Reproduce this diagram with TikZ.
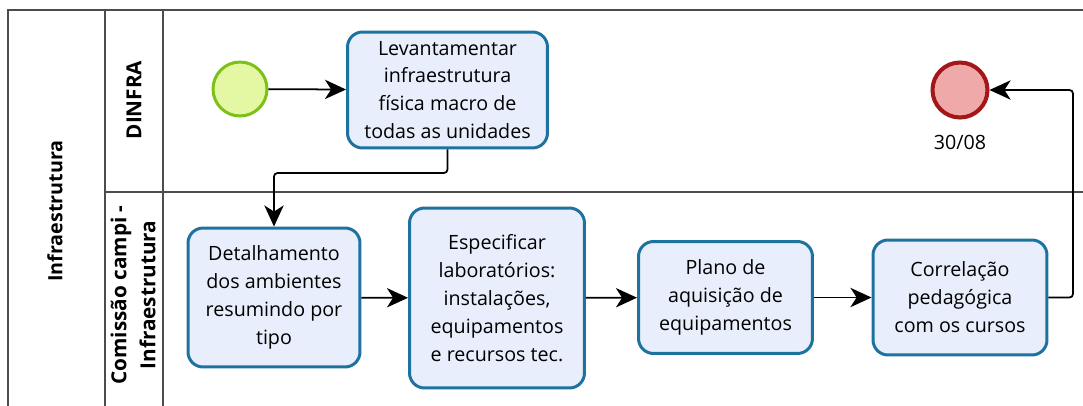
\documentclass[tikz,border=0pt]{standalone}
\usepackage{fontspec}
\setmainfont{Open Sans}
\usepackage{tikz}
\usetikzlibrary{arrows.meta,positioning,calc}
\definecolor{taskfill}{HTML}{E8EEFB}
\definecolor{taskline}{HTML}{1E72A0}
\definecolor{startfill}{HTML}{E4F7A2}
\definecolor{startline}{HTML}{7CC118}
\definecolor{endfill}{HTML}{EFA9A9}
\definecolor{endline}{HTML}{A3171B}
\tikzset{
    x=0.02cm, y=-0.02cm,
    txt/.style = {font=\fontsize{11.2}{15.9}\selectfont, align=center},
    task/.style = {rectangle, rounded corners=0.3cm, draw=taskline, line width=1.7pt,
                   fill=taskfill, txt, inner sep=2pt},
    startev/.style = {circle, draw=startline, fill=startfill, line width=1.7pt, minimum size=1.08cm},
    endev/.style = {circle, draw=endline, fill=endfill, line width=2.3pt, minimum size=1.1cm},
    flow/.style = {-{Stealth[length=12pt,width=11pt,inset=3.5pt]}, line width=1pt, rounded corners=2pt},
    pool/.style = {line width=0.7pt, draw=black!70},
    lanetxt/.style = {rotate=90, font=\fontsize{11.8}{16.5}\selectfont\bfseries, align=center}
}
\begin{document}
\begin{tikzpicture}
            \useasboundingbox (0,0) rectangle (1083,406);
            % pool and lanes
            \draw[pool] (1083,10) -- (8,10) -- (8,406);
            \draw[pool] (105,10) -- (105,406);
            \draw[pool] (163,10) -- (163,406);
            \draw[pool] (105,192) -- (1083,192);
            \node[lanetxt,font=\fontsize{11.2}{16.5}\selectfont\bfseries] (pooltxt) at (55,211) {Infraestrutura};
            \node[lanetxt] (dinfra) at (134,100) {DINFRA};
            \node[lanetxt] (comissao) at (133,295) {Comissão campi -\\Infraestrutura};
            % events
            \node[startev] (inicio) at (240,89) {};
            \node[endev] (fim) at (960,90) {};
            \node[txt] [below=0.2cm of fim] (prazo) {30/08};
            % tasks
            \node[task,minimum width=4cm,minimum height=2.32cm] (levantar) at (447.5,90)
                {Levantamentar\\infraestrutura\\física macro de\\todas as unidades};
            \node[task,minimum width=3.44cm,minimum height=2.78cm] (detalhar) at (274,297.5)
                {Detalhamento\\dos ambientes\\resumindo por\\tipo};
            \node[task,minimum width=3.5cm,minimum height=3.6cm] (especificar) at (497,298)
                {Especificar\\laboratórios:\\instalações,\\equipamentos\\e recursos tec.};
            \node[task,minimum width=3.48cm,minimum height=2.24cm] (plano) at (725.5,297.5)
                {Plano de\\aquisição de\\equipamentos};
            \node[task,minimum width=3.48cm,minimum height=2.3cm] (correlacao) at (960,297.5)
                {Correlação\\pedagógica\\com os cursos};
            % sequence flows
            \coordinate (j1) at (447.5,173);
            \coordinate (j2) at (1073,297.5);
            \draw[flow] (inicio) -- (levantar);
            \draw[flow] (levantar.south) -- (j1) -| (detalhar.north);
            \draw[flow] (detalhar) -- (especificar);
            \draw[flow] (especificar) -- (plano);
            \draw[flow] (plano) -- (correlacao);
            \draw[flow] (correlacao.east) -- (j2) |- (fim.east);
        \end{tikzpicture}
\end{document}
